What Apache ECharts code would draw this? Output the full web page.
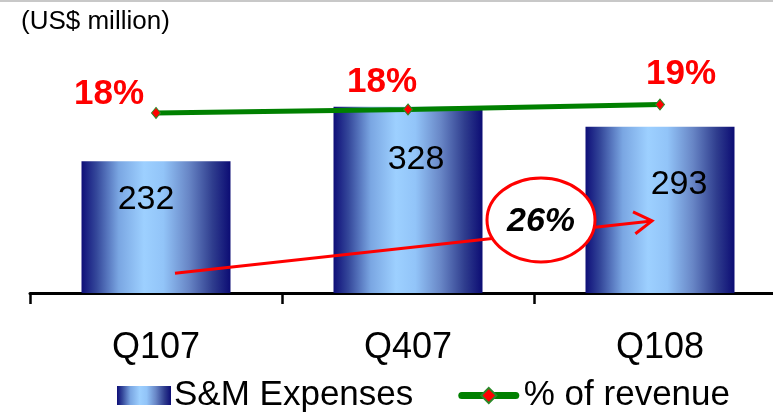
<!DOCTYPE html>
<html>
<head>
<meta charset="utf-8">
<script src="https://cdn.jsdelivr.net/npm/echarts@6/dist/echarts.min.js"></script>
<style>
  html, body { margin: 0; padding: 0; background: #fff; }
  #chart { width: 773px; height: 415px; }
</style>
</head>
<body>
<div id="chart"></div>
<script>
// Quarterly sales & marketing spend (US$ million) and its share of revenue (%)
const categories = ['Q107', 'Q407', 'Q108'];
const expenses = [232, 328, 293];
const revenueShare = [17.6, 18.1, 18.8];
const growthNote = '26%';

const FONT = '"Liberation Sans", Arial, sans-serif';

// per-bar placement of the value labels inside the bars
const barLabelOffsets = [[-10, 21], [8, 36], [19, 41]];
// per-point placement of the percentage labels above the line
const shareLabelOffsets = [[-47, 5], [-26, -4], [21, -7]];

const barGradient = {
  type: 'linear', x: 0, y: 0, x2: 1, y2: 0,
  colorStops: [
    { offset: 0.00, color: '#0e0e78' },
    { offset: 0.10, color: '#34479a' },
    { offset: 0.25, color: '#7aa6e2' },
    { offset: 0.42, color: '#9dd0ff' },
    { offset: 0.55, color: '#92c4f8' },
    { offset: 0.72, color: '#6886c6' },
    { offset: 0.88, color: '#2f3d8e' },
    { offset: 1.00, color: '#0c0c74' }
  ]
};

const chart = echarts.init(document.getElementById('chart'), null, { renderer: 'canvas' });

const option = {
  animation: false,
  backgroundColor: '#fff',
  textStyle: { fontFamily: FONT },
  title: {
    text: '(US$ million)',
    left: 16, top: 4,
    textStyle: { fontFamily: FONT, fontSize: 26, fontWeight: 'normal', color: '#000' }
  },
  // the category axis runs on past the right edge of the canvas
  grid: { left: 30, width: 756, top: 66, height: 227, outerBoundsMode: 'none', containLabel: false },
  legend: {
    left: 117, top: 378, padding: 0,
    itemWidth: 54, itemHeight: 19, itemGap: 45,
    textStyle: { fontFamily: FONT, fontSize: 35, color: '#000', padding: [0, 0, 0, -2] },
    data: [
      { name: 'S&M Expenses', icon: 'rect' },
      {
        name: '% of revenue',
        lineStyle: { width: 7, color: '#008000', cap: 'round' },
        textStyle: { fontFamily: FONT, fontSize: 35, color: '#000', padding: [0, 0, 0, 3] }
      }
    ]
  },
  xAxis: {
    type: 'category',
    data: categories,
    axisLine: { show: true, lineStyle: { color: '#000', width: 3 } },
    axisTick: { show: true, length: 11, lineStyle: { color: '#000', width: 2.5 } },
    axisLabel: { fontFamily: FONT, fontSize: 36, color: '#000', margin: 37 }
  },
  yAxis: [
    { type: 'value', min: 0, max: 400, show: false, splitLine: { show: false } },
    { type: 'value', min: -8.1, max: 24.3, show: false, splitLine: { show: false } }
  ],
  series: [
    {
      name: 'S&M Expenses',
      type: 'bar',
      barWidth: 149,
      itemStyle: { color: barGradient },
      data: expenses.map((v, i) => ({
        value: v,
        label: {
          show: true,
          position: 'insideTop',
          distance: 0,
          offset: barLabelOffsets[i],
          fontFamily: FONT, fontSize: 34, color: '#000'
        }
      }))
    },
    {
      name: '% of revenue',
      type: 'line',
      yAxisIndex: 1,
      symbol: 'diamond',
      symbolSize: [9, 11],
      itemStyle: { color: '#ff0000', borderColor: '#2a8a2a', borderWidth: 1 },
      lineStyle: { color: '#008000', width: 5 },
      z: 5,
      data: revenueShare.map((v, i) => ({
        value: v,
        label: {
          show: true,
          position: 'top',
          distance: 0,
          offset: shareLabelOffsets[i],
          formatter: () => Math.round(v) + '%',
          fontFamily: FONT, fontSize: 35, fontWeight: 'bold', color: '#ff0000'
        }
      }))
    }
  ]
};

chart.setOption(option);

// Growth annotation: arrow from the first bar to the last, with a circled note
const start = chart.convertToPixel({ seriesIndex: 0 }, ['Q107', 35]);
const end = chart.convertToPixel({ seriesIndex: 0 }, ['Q108', 127]);
start[0] += 19;
end[0] -= 8;
const mid = chart.convertToPixel({ seriesIndex: 0 }, ['Q407', 127]);
const noteCx = mid[0] + 133;
const noteCy = mid[1] - 1;
const ang = Math.atan2(end[1] - start[1], end[0] - start[0]);
const headLen = 21, headSpread = 0.55;
const arm = (s) => [end[0] - headLen * Math.cos(ang + s), end[1] - headLen * Math.sin(ang + s)];

chart.setOption({
  graphic: [
    {
      type: 'rect', left: 0, top: 0, z: 100,
      shape: { width: 773, height: 2 },
      style: { fill: '#c8c8c8' }
    },
    {
      type: 'polyline', z: 90,
      shape: { points: [start, end] },
      style: { stroke: '#ff0000', lineWidth: 3, fill: null }
    },
    {
      type: 'polyline', z: 90,
      shape: { points: [arm(-headSpread), end, arm(headSpread)] },
      style: { stroke: '#ff0000', lineWidth: 3, fill: null }
    },
    {
      type: 'ellipse', z: 95,
      shape: { cx: noteCx, cy: noteCy, rx: 54, ry: 42 },
      style: { fill: '#fff', stroke: '#ff0000', lineWidth: 3 }
    },
    {
      type: 'text', z: 96,
      x: noteCx, y: noteCy + 2,
      style: {
        text: growthNote,
        fontFamily: FONT, fontSize: 34, fontWeight: 'bold', fontStyle: 'italic',
        fill: '#000', align: 'center', verticalAlign: 'middle'
      }
    }
  ]
});
</script>
</body>
</html>
